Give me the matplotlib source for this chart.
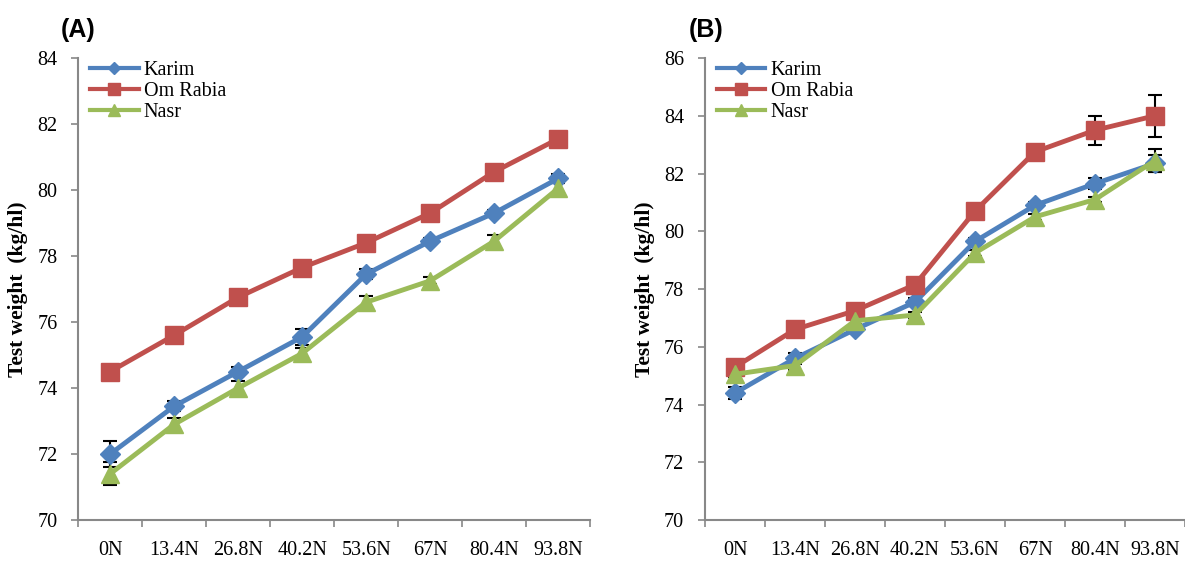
import matplotlib
matplotlib.use("Agg")
import matplotlib.pyplot as plt
from matplotlib.ticker import FixedLocator

# nitrogen rates (x categories)
rates = ["0N", "13.4N", "26.8N", "40.2N", "53.6N", "67N", "80.4N", "93.8N"]

# panel A - test weight (kg/hl)
a_karim = [72.0, 73.45, 74.5, 75.55, 77.45, 78.45, 79.3, 80.35]
a_omrabia = [74.5, 75.6, 76.75, 77.65, 78.4, 79.3, 80.55, 81.55]
a_nasr = [71.4, 72.9, 74.0, 75.05, 76.6, 77.25, 78.45, 80.05]
a_karim_err = [0.4, 0.15, 0.15, 0.25, 0.15, 0.1, 0.1, 0.15]
a_omrabia_err = [0.1, 0.1, 0.1, 0.1, 0.1, 0.1, 0.1, 0.1]
a_nasr_err = [0.35, 0.2, 0.2, 0.15, 0.2, 0.1, 0.2, 0.15]

# panel B - test weight (kg/hl)
b_karim = [74.4, 75.6, 76.6, 77.55, 79.65, 80.9, 81.65, 82.35]
b_omrabia = [75.3, 76.6, 77.25, 78.15, 80.7, 82.75, 83.5, 84.0]
b_nasr = [75.05, 75.35, 76.9, 77.1, 79.25, 80.5, 81.1, 82.45]
b_karim_err = [0.2, 0.2, 0.1, 0.15, 0.1, 0.1, 0.2, 0.3]
b_omrabia_err = [0.1, 0.1, 0.1, 0.1, 0.1, 0.1, 0.5, 0.72]
b_nasr_err = [0.1, 0.15, 0.1, 0.1, 0.1, 0.1, 0.1, 0.4]

BLUE, RED, GREEN = "#4F81BD", "#C0504D", "#9BBB59"
SERIF = ["Liberation Serif", "DejaVu Serif"]

plt.rcParams["font.family"] = SERIF

fig = plt.figure(figsize=(11.85, 5.65), dpi=100)
ax_a = fig.add_axes([0.066, 0.0796, 0.432, 0.8177])
ax_b = fig.add_axes([0.595, 0.0796, 0.405, 0.8177])


def draw_panel(ax, karim, omrabia, nasr, errs, ylim, label, ylabel_x):
    x = list(range(len(rates)))
    series = [("Karim", karim, errs[0], BLUE, "D", 10),
              ("Om Rabia", omrabia, errs[1], RED, "s", 13),
              ("Nasr", nasr, errs[2], GREEN, "^", 13)]
    handles = []
    for name, vals, err, col, mk, ms in series:
        ax.errorbar(x, vals, yerr=err, fmt="none", ecolor="black",
                    elinewidth=1.5, capsize=5, capthick=1.5, zorder=2)
        ax.plot(x, vals, color=col, lw=3.5, marker=mk, ms=ms, zorder=3)
        # smaller markers in the legend, like the original
        h, = ax.plot([], [], color=col, lw=3, marker=mk, ms=ms * 0.65,
                     label=name)
        handles.append(h)
    ax.set_xlim(-0.5, len(rates) - 0.5)
    ax.set_ylim(*ylim)
    ax.set_yticks(range(ylim[0], ylim[1] + 1, 2))
    ax.set_xticks(x)
    ax.set_xticklabels(rates, fontsize=14.5)
    ax.xaxis.set_minor_locator(FixedLocator([i - 0.5 for i in range(len(rates) + 1)]))
    ax.tick_params(axis="x", which="major", length=0, pad=15)
    ax.tick_params(axis="x", which="minor", length=5, color="#888888", width=1.2)
    ax.tick_params(axis="y", length=5, color="#888888", width=1.2, pad=10,
                   labelsize=14.5)
    for s in ("top", "right"):
        ax.spines[s].set_visible(False)
    for s in ("left", "bottom"):
        ax.spines[s].set_color("#888888")
        ax.spines[s].set_linewidth(1.5)
    ax.set_ylabel("Test weight  (kg/hl)", fontsize=15.5, fontweight="bold")
    ax.yaxis.set_label_coords(ylabel_x, 0.5)
    ax.legend(handles=handles, loc="upper left", bbox_to_anchor=(0.0, 1.02),
              frameon=False, prop={"size": 14.5}, handlelength=2.4,
              labelspacing=0.1, handletextpad=0.25, borderaxespad=0.2)
    ax.text(-0.035, 1.035, label, transform=ax.transAxes, fontsize=18,
            fontweight="bold", family=["Liberation Sans", "DejaVu Sans"],
            va="bottom")


draw_panel(ax_a, a_karim, a_omrabia, a_nasr,
           [a_karim_err, a_omrabia_err, a_nasr_err], (70, 84), "(A)", -0.098)
draw_panel(ax_b, b_karim, b_omrabia, b_nasr,
           [b_karim_err, b_omrabia_err, b_nasr_err], (70, 86), "(B)", -0.105)

fig.savefig("out.png", dpi=100)
